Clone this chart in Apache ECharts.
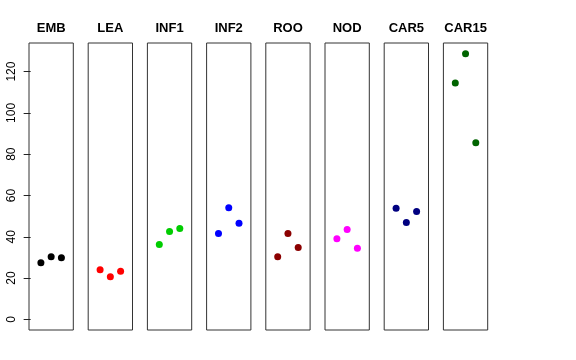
<!DOCTYPE html>
<html>
<head>
<meta charset="utf-8">
<script src="https://cdn.jsdelivr.net/npm/echarts@6/dist/echarts.min.js"></script>
<style>html,body{margin:0;padding:0;background:#fff;}#c{width:576px;height:360px;}</style>
</head>
<body>
<div id="c"></div>
<script>
const panels = ['EMB', 'LEA', 'INF1', 'INF2', 'ROO', 'NOD', 'CAR5', 'CAR15'];
const colors = ['#000000', '#FF0000', '#00CD00', '#0000FF', '#8B0000', '#FF00FF', '#000080', '#006400'];
const EMB = [27.4, 30.3, 29.8];
const LEA = [24.0, 20.6, 23.3];
const INF1 = [36.2, 42.5, 44.0];
const INF2 = [41.6, 54.0, 46.6];
const ROO = [30.3, 41.6, 34.8];
const NOD = [39.0, 43.5, 34.5];
const CAR5 = [53.8, 46.9, 52.2];
const CAR15 = [114.5, 128.7, 85.5];
const values = [EMB, LEA, INF1, INF2, ROO, NOD, CAR5, CAR15];
const yTicks = [0, 20, 40, 60, 80, 100, 120];
const xPositions = [1, 2, 3];

const yLo = 0, yHi = 128.7;
const pad = (yHi - yLo) * 0.04;
const xPad = 4 * 0.04;

const grids = [], xAxes = [], yAxes = [], series = [], titles = [];
panels.forEach((name, i) => {
  const left = 29 + 59.2 * i;
  const width = 44.3;
  grids.push({left: left, top: 43, width: width, height: 287, show: true, borderColor: '#333', borderWidth: 1, backgroundColor: 'transparent'});
  xAxes.push({type: 'value', gridIndex: i, min: 0 - xPad, max: 4 + xPad, show: false});
  yAxes.push({
    type: 'value', gridIndex: i, min: yLo - pad, max: yHi + pad,
    show: i === 0,
    splitLine: {show: false},
    axisLine: {show: false},
    axisTick: {show: true, length: 7, customValues: yTicks, lineStyle: {color: '#222', width: 1}},
    axisLabel: {show: true, customValues: yTicks, rotate: 90, margin: 11, color: '#000', fontSize: 12, fontFamily: 'Liberation Sans, Arial, sans-serif'}
  });
  series.push({
    type: 'scatter', xAxisIndex: i, yAxisIndex: i,
    symbol: 'circle', symbolSize: 7,
    itemStyle: {color: colors[i], opacity: 1},
    data: values[i].map((v, j) => [xPositions[j], v]),
    silent: true, animation: false
  });
  titles.push({
    text: name, left: left + width / 2, top: 22, padding: 0, textAlign: 'center',
    textStyle: {fontSize: 13, fontWeight: 'bold', color: '#000', fontFamily: 'Liberation Sans, Arial, sans-serif'}
  });
});

const chart = echarts.init(document.getElementById('c'), null, {renderer: 'canvas'});
chart.setOption({
  animation: false,
  backgroundColor: '#fff',
  title: titles,
  grid: grids,
  xAxis: xAxes,
  yAxis: yAxes,
  series: series
});
</script>
</body>
</html>
